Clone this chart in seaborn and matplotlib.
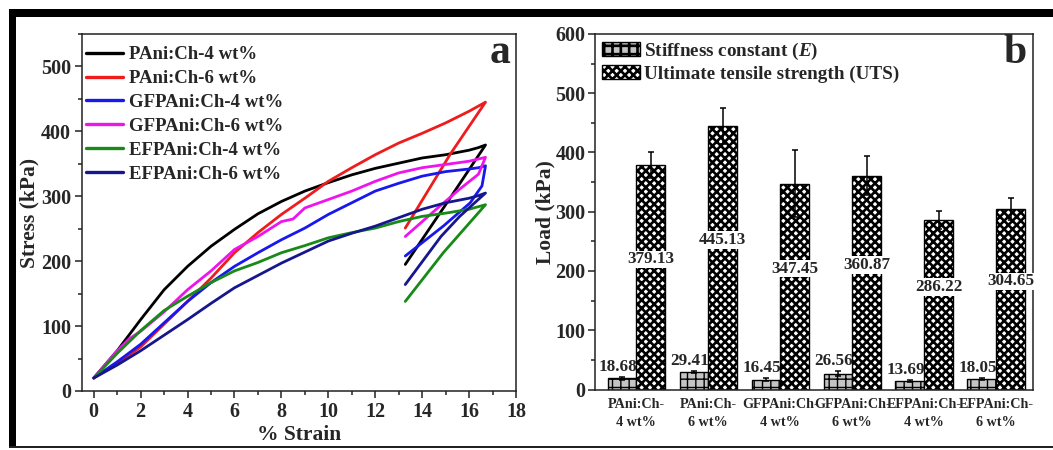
import numpy as np
import pandas as pd
import matplotlib
matplotlib.use("Agg")
import matplotlib.pyplot as plt
from matplotlib.patches import Patch, Rectangle
from matplotlib.ticker import MultipleLocator
import seaborn as sns

# ---------------- stress-strain curves (loading then unloading) ----------------
samples = ["PAni:Ch-4 wt%", "PAni:Ch-6 wt%", "GFPAni:Ch-4 wt%",
           "GFPAni:Ch-6 wt%", "EFPAni:Ch-4 wt%", "EFPAni:Ch-6 wt%"]
line_colors = ["#000000", "#ee1c1c", "#1818ee", "#ee14ee", "#178a17", "#16168e"]

strain_pani4 = [0, 1, 1.5, 2, 3, 4, 5, 6, 7, 8, 9, 10, 11, 12, 13, 14, 15, 16, 16.4, 16.7, 15.0, 13.28]
stress_pani4 = [20, 62, 86, 110, 156, 192, 223, 249, 273, 292, 308, 321, 333, 343, 351, 359, 364, 371, 375, 379, 287, 195]

strain_pani6 = [0, 1, 2, 3, 4, 5, 6, 7, 8, 9, 10, 11, 12, 13, 14, 15, 16, 16.7, 15.2, 13.28]
stress_pani6 = [20, 42, 68, 103, 138, 174, 213, 244, 272, 297, 323, 344, 364, 382, 397, 413, 431, 445, 365, 251]

strain_gf4 = [0, 1, 2, 3, 4, 5, 6, 7, 8, 9, 10, 11, 12, 13, 14, 15, 16, 16.4, 16.7, 16.55, 16.05, 14.9, 13.28]
stress_gf4 = [20, 45, 72, 105, 138, 167, 192, 213, 233, 251, 272, 290, 308, 320, 331, 338, 342, 344, 347, 316, 290, 254, 208]

strain_gf6 = [0, 1, 1.5, 2, 3, 4, 5, 6, 7, 8, 8.5, 9, 10, 11, 12, 13, 14, 15, 16, 16.7, 16.4, 15.6, 14.6, 13.28]
stress_gf6 = [20, 62, 80, 92, 122, 156, 185, 218, 238, 261, 265, 282, 295, 308, 323, 336, 344, 349, 354, 360, 334, 311, 280, 238]

strain_ef4 = [0, 1, 2, 3, 4, 5, 6, 7, 8, 9, 10, 11, 12, 13, 14, 15, 16, 16.7, 14.9, 13.28]
stress_ef4 = [20, 58, 93, 124, 146, 167, 185, 198, 213, 224, 236, 244, 251, 261, 269, 274, 280, 287, 213, 138]

strain_ef6 = [0, 1, 2, 3, 4, 5, 6, 7, 8, 9, 10, 11, 12, 13, 14, 15, 16, 16.4, 16.7, 15.6, 14.8, 13.28]
stress_ef6 = [20, 40, 62, 86, 110, 135, 159, 178, 197, 214, 231, 243, 254, 267, 280, 290, 297, 301, 305, 269, 238, 164]

# ---------------- mechanical properties ----------------
groups = ["PAni:Ch-\n4 wt%", "PAni:Ch-\n6 wt%", "GFPAni:Ch-\n4 wt%",
          "GFPAni:Ch-\n6 wt%", "EFPAni:Ch-\n4 wt%", "EFPAni:Ch-\n6 wt%"]
stiffness = [18.68, 29.41, 16.45, 26.56, 13.69, 18.05]
stiffness_err = [2.5, 2.0, 2.5, 4.0, 1.5, 2.0]
uts = [379.13, 445.13, 347.45, 360.87, 286.22, 304.65]
uts_err = [22, 30, 57, 33, 15, 18]
metric_names = ["Stiffness constant ($\\mathit{E}$)", "Ultimate tensile strength (UTS)"]

# ---------------- style ----------------
sns.set_theme(style="ticks")
plt.rcParams["font.family"] = ["Liberation Serif", "DejaVu Serif"]
plt.rcParams["font.weight"] = "bold"
plt.rcParams["axes.labelweight"] = "bold"
plt.rcParams["mathtext.fontset"] = "custom"
plt.rcParams["mathtext.it"] = "Liberation Serif:italic:bold"
plt.rcParams["mathtext.rm"] = "Liberation Serif:bold"
plt.rcParams["hatch.linewidth"] = 1.9
plt.rcParams["axes.edgecolor"] = "#222222"
plt.rcParams["axes.linewidth"] = 1.1

fig = plt.figure(figsize=(10.53, 4.5), dpi=100)
W, H = 1053, 450

# outer frame
fig.patches.append(Rectangle((9 / W, (H - 17) / H), 1 - 9 / W, 8 / H, transform=fig.transFigure,
                             facecolor="black", edgecolor="none"))
fig.patches.append(Rectangle((9 / W, (H - 447) / H), 7 / W, 438 / H, transform=fig.transFigure,
                             facecolor="black", edgecolor="none"))
fig.patches.append(Rectangle((9 / W, (H - 448) / H), 1 - 9 / W, 2 / H, transform=fig.transFigure,
                             facecolor="#222222", edgecolor="none"))

TICK_FS = 14.5
LABEL_FS = 15.5

# ---------------- panel a ----------------
ax1 = fig.add_axes([82 / W, (H - 391) / H, 434 / W, 357 / H])
curve_x = [strain_pani4, strain_pani6, strain_gf4, strain_gf6, strain_ef4, strain_ef6]
curve_y = [stress_pani4, stress_pani6, stress_gf4, stress_gf6, stress_ef4, stress_ef6]
rows = []
for name, xs, ys in zip(samples, curve_x, curve_y):
    for i, (xv, yv) in enumerate(zip(xs, ys)):
        rows.append({"sample": name, "step": i, "strain": xv, "stress": yv})
curves = pd.DataFrame(rows)

sns.lineplot(data=curves, x="strain", y="stress", hue="sample", hue_order=samples,
             palette=line_colors, sort=False, estimator=None, linewidth=2.0, ax=ax1)

ax1.set_xlim(-0.5, 18)
ax1.set_ylim(0, 550)
ax1.xaxis.set_major_locator(MultipleLocator(2))
ax1.xaxis.set_minor_locator(MultipleLocator(1))
ax1.yaxis.set_major_locator(MultipleLocator(100))
ax1.yaxis.set_minor_locator(MultipleLocator(50))
ax1.tick_params(which="both", direction="out", top=False, right=False, labelsize=TICK_FS,
                width=1.1, color="#222222")
ax1.tick_params(which="major", length=5, pad=3)
ax1.tick_params(which="minor", length=3)
for lab in ax1.get_xticklabels() + ax1.get_yticklabels():
    lab.set_fontweight("bold")
ax1.set_xlabel("% Strain", fontsize=LABEL_FS, labelpad=2)
ax1.set_ylabel("Stress (kPa)", fontsize=LABEL_FS, labelpad=1)
for s in ax1.spines.values():
    s.set_visible(True)

leg1 = ax1.legend(loc="upper left", bbox_to_anchor=(0.0, 0.9765), frameon=False, fontsize=13.5,
                  handlelength=2.0, handletextpad=0.3, labelspacing=0.36, borderaxespad=0.0,
                  borderpad=0.2)
for line in leg1.get_lines():
    line.set_linewidth(2.4)
ax1.text(0.963, 0.947, "a", transform=ax1.transAxes, fontsize=30, fontweight="bold",
         ha="center", va="center")

# ---------------- panel b ----------------
ax2 = fig.add_axes([595 / W, (H - 389.5) / H, 438 / W, 355.5 / H])
props = pd.DataFrame({
    "group": groups * 2,
    "metric": [metric_names[0]] * 6 + [metric_names[1]] * 6,
    "value": stiffness + uts,
})
sns.barplot(data=props, x="group", y="value", hue="metric", order=groups, hue_order=metric_names,
            palette=["#c4c4c4", "white"], edgecolor="black", linewidth=1.0, errorbar=None,
            legend=False, ax=ax2)

hatches = ["++", "xxxx"]
hatch_lw = [1.0, 1.9]
errs = [stiffness_err, uts_err]
vals = [stiffness, uts]
for cont, hatch, hlw, err, v in zip(ax2.containers, hatches, hatch_lw, errs, vals):
    xs = []
    for bar in cont:
        bar.set_hatch(hatch)
        if hasattr(bar, "set_hatch_linewidth"):
            bar.set_hatch_linewidth(hlw)
        xs.append(bar.get_x() + bar.get_width() / 2)
    ax2.errorbar(xs, v, yerr=err, fmt="none", ecolor="black", elinewidth=1.1, capsize=2.5,
                 capthick=1.1, zorder=3)

# stiffness value labels above the bars
for bar, v, e in zip(ax2.containers[0], stiffness, stiffness_err):
    ax2.annotate(f"{v:.2f}", (bar.get_x() + bar.get_width() / 2, v + e), xytext=(-3, 1.5),
                 textcoords="offset points", ha="center", va="bottom", fontsize=12.3,
                 fontweight="bold")
# UTS value labels inside the bars on a white background
for bar, v in zip(ax2.containers[1], uts):
    ax2.text(bar.get_x() + bar.get_width() / 2, v / 2 + 30, f"{v:.2f}", ha="center", va="center",
             fontsize=12.3, fontweight="bold", zorder=4,
             bbox=dict(facecolor="white", edgecolor="none", pad=0.5))

ax2.set_xlim(-0.574, 5.51)
ax2.set_ylim(0, 600)
ax2.yaxis.set_major_locator(MultipleLocator(100))
ax2.yaxis.set_minor_locator(MultipleLocator(50))
ax2.tick_params(axis="y", which="both", direction="out", right=False, labelsize=TICK_FS,
                width=1.1, color="#222222")
ax2.tick_params(axis="y", which="major", length=5, pad=2)
ax2.tick_params(axis="y", which="minor", length=3)
ax2.tick_params(axis="x", length=0, labelsize=10.2, pad=6)
ax2.set_xticks(range(len(groups)))
ax2.set_xticklabels(groups, linespacing=1.55)
for lab in ax2.get_xticklabels() + ax2.get_yticklabels():
    lab.set_fontweight("bold")
ax2.set_xlabel("")
ax2.set_ylabel("Load (kPa)", fontsize=LABEL_FS, labelpad=0)
for s in ax2.spines.values():
    s.set_visible(True)

handles = [Patch(facecolor="#c4c4c4", edgecolor="black", hatch=hatches[0], label=metric_names[0]),
           Patch(facecolor="white", edgecolor="black", hatch=hatches[1], label=metric_names[1])]
ax2.legend(handles=handles, loc="upper left", frameon=False, fontsize=13.8, handlelength=2.0,
           handleheight=0.8, handletextpad=0.22, labelspacing=0.15, borderaxespad=0.1, borderpad=0.25)
ax2.text(0.96, 0.947, "b", transform=ax2.transAxes, fontsize=30, fontweight="bold",
         ha="center", va="center")

fig.savefig("out.png", dpi=100)
